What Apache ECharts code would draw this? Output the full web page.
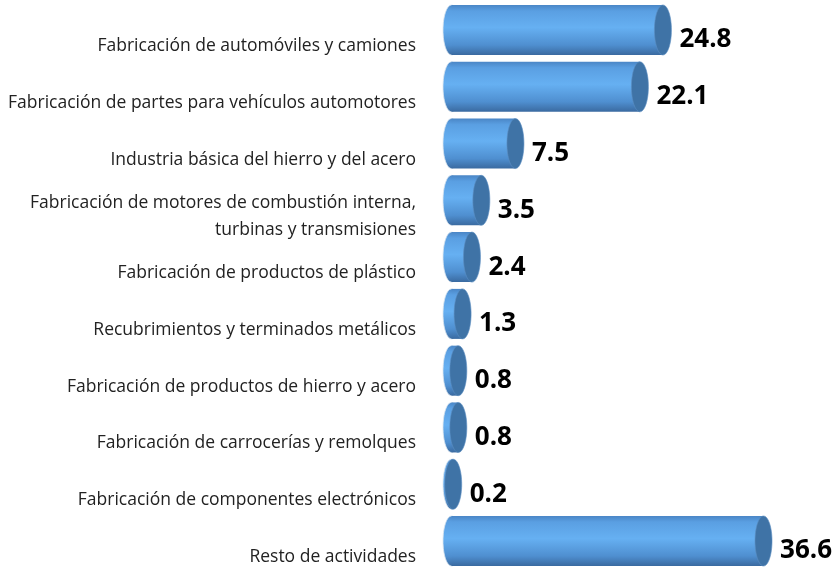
<!DOCTYPE html>
<html>
<head>
<meta charset="utf-8">
<script src="https://cdn.jsdelivr.net/npm/echarts@6/dist/echarts.min.js"></script>
<style>
html, body { margin: 0; padding: 0; background: #fff; }
#main { width: 839px; height: 571px; }
</style>
</head>
<body>
<div id="main"></div>
<script>
var categories = [
    'Fabricación de automóviles y camiones',
    'Fabricación de partes para vehículos automotores',
    'Industria básica del hierro y del acero',
    'Fabricación de motores de combustión interna,\nturbinas y transmisiones',
    'Fabricación de productos de plástico',
    'Recubrimientos y terminados metálicos',
    'Fabricación de productos de hierro y acero',
    'Fabricación de carrocerías y remolques',
    'Fabricación de componentes electrónicos',
    'Resto de actividades'
];
var values = [24.8, 22.1, 7.5, 3.5, 2.4, 1.3, 0.8, 0.8, 0.2, 36.6];

var chart = echarts.init(document.getElementById('main'));

// cilindro: cuerpo + tapa elíptica
function renderCylinder(params, api) {
    var val = api.value(1);
    var start = api.coord([0, api.value(0)]);
    var end = api.coord([val, api.value(0)]);
    var h = 50;
    var rx = 8.5;
    var cy = start[1] - 16;
    var top = cy - h / 2;
    var x0 = start[0] + rx;
    var x1 = end[0] + rx;
    var bodyFill = new echarts.graphic.LinearGradient(0, 0, 0, 1, [
        { offset: 0, color: '#4a86c6' },
        { offset: 0.12, color: '#5a9fe2' },
        { offset: 0.45, color: '#66b0f2' },
        { offset: 0.8, color: '#4f8fd0' },
        { offset: 1, color: '#3a6aa0' }
    ]);
    return {
        type: 'group',
        children: [
            {
                type: 'ellipse',
                shape: { cx: x0, cy: cy, rx: rx, ry: h / 2 },
                style: { fill: bodyFill, stroke: '#d9e4ef', lineWidth: 0.8 }
            },
            {
                type: 'rect',
                shape: { x: x0, y: top, width: Math.max(x1 - x0, 0), height: h },
                style: { fill: bodyFill }
            },
            {
                type: 'ellipse',
                shape: { cx: x1, cy: cy, rx: rx, ry: h / 2 },
                style: { fill: '#3f73a6', stroke: '#5d8fc2', lineWidth: 0.6 }
            },
            {
                type: 'text',
                style: {
                    x: x1 + rx + 8,
                    y: start[1] - 6,
                    text: val.toFixed(1),
                    fill: '#000',
                    font: 'bold 26px "Open Sans"',
                    verticalAlign: 'middle',
                    align: 'left'
                }
            }
        ]
    };
}

var option = {
    animation: false,
    grid: { left: 443, top: 46, width: 341, height: 511, outerBoundsMode: 'none', containLabel: false },
    xAxis: {
        type: 'value',
        min: 0,
        max: 40,
        show: false
    },
    yAxis: {
        type: 'category',
        inverse: true,
        boundaryGap: false,
        data: categories,
        axisLine: { show: false },
        axisTick: { show: false },
        splitLine: { show: false },
        axisLabel: {
            margin: 27,
            color: '#222',
            fontSize: 17.5,
            fontFamily: 'Open Sans',
            lineHeight: 27,
            align: 'right'
        }
    },
    series: [{
        type: 'custom',
        renderItem: renderCylinder,
        clip: false,
        encode: { x: 1, y: 0 },
        data: values.map(function (v, i) { return [i, v]; })
    }]
};
chart.setOption(option);
</script>
</body>
</html>
